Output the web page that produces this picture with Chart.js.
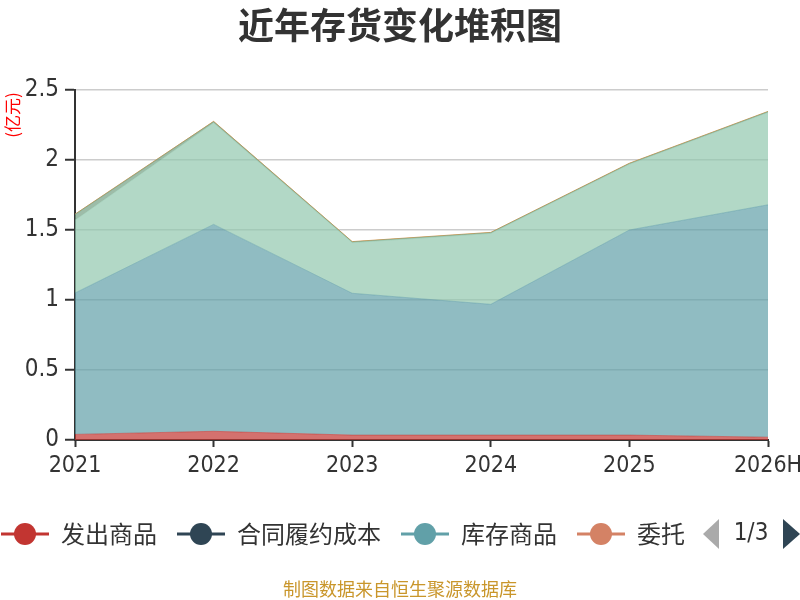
<!DOCTYPE html>
<html>
<head>
<meta charset="utf-8">
<script src="https://cdn.jsdelivr.net/npm/chart.js@4"></script>
<style>
  html, body { margin: 0; padding: 0; background: #fff; }
  #wrap { width: 800px; height: 600px; }
</style>
</head>
<body>
<div id="wrap"><canvas id="stockChart" width="800" height="600"></canvas></div>
<script>
const years = ['2021', '2022', '2023', '2024', '2025', '2026H'];
const seriesNames = ['发出商品', '合同履约成本', '库存商品', '委托加工物资', '原材料', '在产品', '周转材料'];
const seriesColors = ['#c23531', '#2f4554', '#61a0a8', '#d48265', '#91c7ae', '#749f83', '#ca8622'];
const faChuShangPin = [0.04, 0.062, 0.035, 0.035, 0.035, 0.02];
const heTongLvYue = [0, 0, 0, 0, 0, 0];
const kuCunShangPin = [1.01, 1.478, 1.013, 0.934, 1.465, 1.66];
const weiTuoJiaGong = [0, 0, 0, 0, 0, 0];
const yuanCaiLiao = [0.52, 0.725, 0.362, 0.507, 0.47, 0.66];
const zaiChanPin = [0.04, 0.008, 0.004, 0.004, 0.004, 0.004];
const zhouZhuanCaiLiao = [0.003, 0.003, 0.003, 0.003, 0.003, 0.003];
const yTicks = [0, 0.5, 1, 1.5, 2, 2.5];

const seriesValues = [faChuShangPin, heTongLvYue, kuCunShangPin, weiTuoJiaGong, yuanCaiLiao, zaiChanPin, zhouZhuanCaiLiao];
const FONT = "'Noto Sans CJK SC', 'Noto Sans', sans-serif";
const TICK_FONT = "'DejaVu Sans Condensed', sans-serif";

function hexAlpha(hex, a) {
  const n = parseInt(hex.slice(1), 16);
  return 'rgba(' + (n >> 16) + ',' + ((n >> 8) & 255) + ',' + (n & 255) + ',' + a + ')';
}

const datasets = seriesNames.map((name, i) => ({
  label: name,
  data: seriesValues[i],
  backgroundColor: hexAlpha(seriesColors[i], 0.7),
  borderColor: i === 6 ? '#d4a060' : hexAlpha(seriesColors[i], 0.5),
  borderWidth: seriesValues[i].every(v => v === 0) ? 0 : 1,
  fill: i === 0 ? 'origin' : '-1',
  pointRadius: 0,
  tension: 0
}));

// title, unit, legend (page 1 of 3) and source note
const decorations = {
  id: 'decorations',
  afterDraw(chart) {
    const c = chart.ctx;
    c.save();
    c.fillStyle = '#333';
    c.font = 'bold 36px ' + FONT;
    c.textAlign = 'center';
    c.textBaseline = 'middle';
    c.fillText('近年存货变化堆积图', 400, 25);

    c.save();
    c.translate(13, 115);
    c.rotate(-Math.PI / 2);
    c.fillStyle = '#ff0000';
    c.font = '17px ' + FONT;
    c.fillText('(亿元)', 0, 0);
    c.restore();

    // legend
    c.save();
    c.beginPath();
    c.rect(0, 500, 684, 70);
    c.clip();
    let x = 1;
    const ly = 534;
    c.font = '24px ' + FONT;
    c.textAlign = 'left';
    for (let i = 0; i < 4; i++) {
      const col = seriesColors[i];
      c.strokeStyle = col;
      c.lineWidth = 3;
      c.beginPath();
      c.moveTo(x, ly);
      c.lineTo(x + 48, ly);
      c.stroke();
      c.fillStyle = col;
      c.beginPath();
      c.arc(x + 24, ly, 11, 0, Math.PI * 2);
      c.fill();
      c.fillStyle = '#333';
      c.fillText(chart.data.datasets[i].label, x + 60, ly);
      x += 60 + c.measureText(chart.data.datasets[i].label).width + 20;
    }
    c.restore();

    // pager
    c.fillStyle = '#aaa';
    c.beginPath();
    c.moveTo(719, 519); c.lineTo(703, 534); c.lineTo(719, 549); c.closePath();
    c.fill();
    c.fillStyle = '#2f4554';
    c.beginPath();
    c.moveTo(783, 519); c.lineTo(800, 534); c.lineTo(783, 549); c.closePath();
    c.fill();
    c.fillStyle = '#333';
    c.font = '24px ' + TICK_FONT;
    c.textAlign = 'center';
    c.fillText('1/3', 751, 534);

    c.fillStyle = '#c9962b';
    c.font = '18px ' + FONT;
    c.fillText('制图数据来自恒生聚源数据库', 400, 589);
    c.restore();
  }
};

new Chart(document.getElementById('stockChart').getContext('2d'), {
  type: 'line',
  data: { labels: years, datasets: datasets },
  options: {
    responsive: false,
    animation: false,
    layout: { padding: { top: 90, right: 32, bottom: 0, left: 0 } },
    plugins: { legend: { display: false }, title: { display: false }, tooltip: { enabled: false } },
    scales: {
      x: {
        offset: false,
        grid: { display: true, drawOnChartArea: false, tickLength: 7, tickColor: '#333', tickWidth: 2 },
        border: { color: '#333', width: 2 },
        ticks: { color: '#333', font: { family: TICK_FONT, size: 23 }, maxRotation: 0, autoSkip: false, padding: 5 },
        afterFit(s) { s.height = 160; s.paddingRight = 0; }
      },
      y: {
        stacked: true,
        min: 0,
        max: 2.5,
        grid: { color: '#cccccc', lineWidth: 1.5, tickLength: 10, tickColor: '#333', tickWidth: 2 },
        border: { color: '#333', width: 2 },
        afterBuildTicks(s) { s.ticks = yTicks.map(v => ({ value: v })); },
        ticks: { color: '#333', font: { family: TICK_FONT, size: 24 }, padding: 6, callback: v => String(v) },
        afterFit(s) { s.width = 75; }
      }
    }
  },
  plugins: [decorations]
});
</script>
</body>
</html>
